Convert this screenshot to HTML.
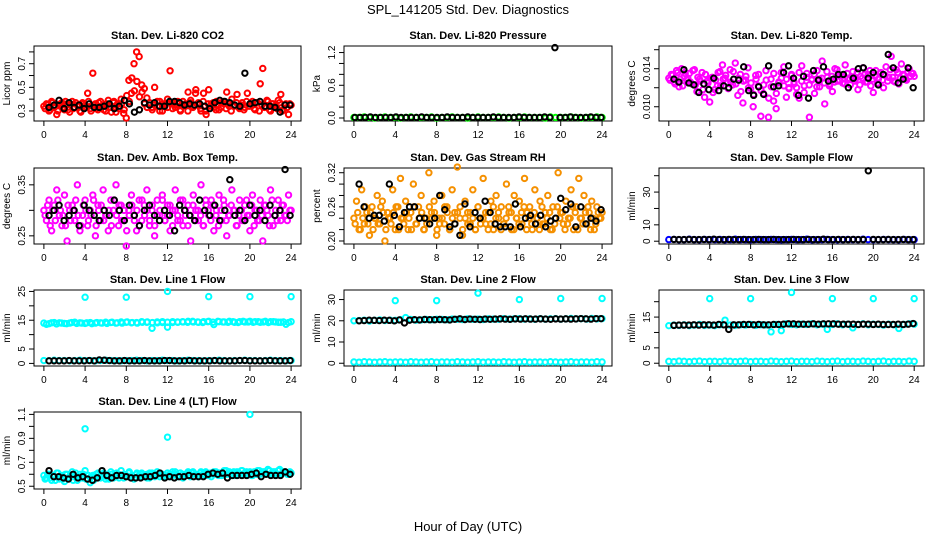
<!DOCTYPE html>
<html><head><meta charset="utf-8"><style>
body{margin:0;background:#fff;}
svg{display:block;font-family:"Liberation Sans",sans-serif;}
</style></head><body>
<svg id="chart" width="936" height="540" viewBox="0 0 936 540">
<text x="468" y="14" text-anchor="middle" font-size="13">SPL_141205  Std. Dev. Diagnostics</text>
<text x="468" y="531" text-anchor="middle" font-size="13">Hour of Day (UTC)</text>
</svg>
<script>
const xTicks = [0,4,8,12,16,20,24];
const co2Red = [.34,.36,.30,.38,.33,.27,.35,.37,.31,.36,.29,.38,.33,.35,.30,.37,.35,.45,.32,.62,.36,.31,.38,.34,.30,.39,.33,.37,.29,.36,.40,.28,.24,.56,.45,.70,.80,.76,.52,.49,.41,.35,.33,.50,.38,.30,.36,.34,.40,.64,.37,.33,.36,.30,.38,.35,.46,.39,.34,.48,.37,.30,.45,.27,.48,.36,.33,.38,.31,.37,.36,.46,.34,.40,.35,.44,.32,.37,.33,.45,.36,.38,.31,.37,.53,.66,.34,.38,.30,.36,.33,.39,.44,.31,.36,.27,.35];
const co2Red2 = [.32,.35,.31,.37,.34,.30,.36,.33,.38,.31,.35,.32,.37,.34,.29,.36,.33,.38,.30,.35,.32,.37,.34,.31,.36,.33,.29,.38,.35,.32,.36,.31,.43,.38,.58,.47,.55,.42,.46,.36,.33,.37,.31,.35,.34,.38,.30,.36,.33,.37,.32,.35,.38,.31,.34,.36,.30,.37,.33,.45,.35,.32,.38,.30,.36,.34,.37,.31,.35,.33,.38,.32,.36,.30,.34,.37,.33,.35,.31,.38,.34,.36,.32,.37,.30,.35,.33,.39,.31,.36,.34,.32,.37,.30,.35,.33,.36];
const co2Black = [.33,.35,.39,.32,.37,.33,.35,.32,.36,.33,.33,.34,.36,.32,.34,.39,.36,.29,.31,.37,.35,.37,.34,.34,.38,.38,.37,.35,.36,.35,.36,.34,.32,.37,.39,.38,.37,.35,.34,.62,.36,.37,.38,.34,.34,.33,.29,.35,.35];
const presGreen = [.01,.01,.02,.01,.0,.01,.02,.01,.01,.0,.01,.02,.01,.01,.01,.02,.0,.01,.01,.02,.01,.01,.0,.01,.02,.01,.01,.01,.02,.01,.0,.01,.01,.02,.01,.01,.01,.0,.02,.01,.01,.01,.02,.01,.0,.01,.01,.02,.01];
const presBlack = [.01,.01,.01,.02,.01,.01,.01,.01,.02,.01,.01,.01,.01,.02,.01,.01,.01,.01,.02,.01,.01,.01,.02,.01,.01,.01,.01,.02,.01,.01,.01,.01,.02,.01,.01,.01,.01,.02,.01,1.29,.01,.01,.02,.01,.01,.01,.02,.01,.01];
const tempMag = [13.0,13.4,12.6,13.8,12.1,14.0,13.2,12.8,13.5,12.4,13.9,11.6,12.9,13.6,11.0,12.7,10.5,13.1,11.8,12.2,13.7,14.4,13.0,12.5,13.9,12.3,14.6,11.2,13.4,10.4,12.8,14.1,11.9,10.0,13.3,12.2,9.0,11.4,13.8,8.9,12.9,10.6,9.8,12.5,13.6,14.2,11.0,12.0,13.4,12.6,11.3,10.9,14.3,12.2,13.5,8.9,12.9,11.4,13.8,12.1,14.8,10.3,13.1,12.4,11.6,14.0,12.7,13.3,12.5,14.4,13.0,12.3,13.7,12.9,11.8,13.2,14.1,12.6,13.4,12.2,11.5,13.8,12.9,13.6,12.0,14.2,13.1,15.3,12.7,13.9,12.4,14.5,13.3,12.8,14.0,13.5,13.2];
const tempMag2 = [12.8,13.3,12.4,13.6,12.9,12.2,13.5,13.0,12.6,13.8,12.3,13.1,12.7,11.8,13.4,12.5,13.0,11.5,12.8,13.6,12.2,12.9,13.3,11.9,12.6,13.7,12.4,13.0,11.6,12.7,13.2,12.0,12.5,11.3,12.9,13.4,11.7,12.3,12.8,10.9,12.1,13.5,11.4,12.6,13.0,12.2,12.9,11.9,13.3,12.4,12.0,13.6,12.7,11.5,13.1,12.3,12.8,13.4,12.1,12.9,13.0,12.5,13.7,12.2,13.2,12.6,13.9,12.8,13.3,12.4,13.5,12.9,13.1,12.7,13.6,12.3,13.0,13.4,12.6,13.8,12.9,13.2,12.5,13.5,12.8,13.3,12.7,13.9,13.1,12.6,13.6,13.0,13.4,12.9,13.7,13.2,13.5];
const tempBlack = [12.9,12.6,13.9,12.5,12.3,11.5,12.4,11.8,13.0,11.7,12.2,12.0,12.9,12.8,14.2,11.7,11.2,12.1,11.3,14.3,12.1,12.2,13.6,14.3,13.0,11.2,13.2,10.9,13.8,12.8,14.2,12.7,12.9,13.4,13.4,12.0,13.0,14.0,14.1,13.0,13.6,12.3,13.4,15.5,14.1,12.5,12.9,14.1,12.0];
const ambMag = [.30,.28,.32,.26,.31,.34,.29,.27,.33,.24,.30,.31,.28,.35,.26,.29,.32,.27,.30,.33,.25,.31,.28,.34,.29,.26,.32,.30,.35,.27,.31,.28,.23,.30,.33,.29,.26,.32,.28,.31,.34,.27,.30,.25,.32,.29,.33,.28,.31,.26,.30,.34,.28,.32,.27,.29,.31,.24,.33,.30,.28,.35,.27,.31,.29,.32,.26,.30,.33,.28,.31,.25,.29,.34,.30,.27,.32,.28,.31,.29,.26,.33,.30,.28,.32,.24,.31,.29,.34,.27,.30,.32,.28,.31,.29,.33,.30];
const ambMag2 = [.29,.31,.27,.30,.28,.32,.30,.29,.27,.31,.28,.30,.32,.29,.27,.31,.30,.28,.29,.32,.27,.30,.31,.28,.29,.30,.27,.32,.29,.31,.28,.30,.26,.29,.31,.28,.30,.27,.32,.29,.30,.28,.31,.27,.29,.30,.32,.28,.29,.31,.27,.30,.29,.28,.32,.30,.27,.29,.31,.28,.30,.29,.27,.32,.30,.28,.31,.29,.27,.30,.32,.28,.29,.31,.30,.27,.29,.30,.28,.32,.29,.31,.27,.30,.28,.29,.31,.30,.27,.32,.29,.28,.30,.31,.29,.28,.30];
const ambBlack = [.29,.30,.31,.28,.29,.30,.27,.31,.30,.29,.28,.30,.29,.32,.30,.28,.31,.29,.27,.30,.31,.29,.28,.30,.29,.26,.31,.30,.29,.28,.32,.30,.29,.31,.28,.30,.36,.29,.30,.28,.31,.29,.30,.28,.31,.29,.30,.38,.29];
const rhOrange = [.24,.27,.22,.29,.23,.25,.21,.26,.24,.28,.23,.27,.20,.25,.24,.29,.22,.26,.31,.24,.27,.22,.25,.30,.23,.26,.28,.22,.24,.32,.25,.27,.21,.24,.28,.23,.26,.22,.29,.25,.33,.24,.21,.27,.25,.23,.29,.22,.26,.24,.31,.23,.25,.27,.22,.28,.24,.26,.23,.30,.25,.22,.28,.24,.27,.23,.31,.25,.26,.22,.29,.24,.27,.23,.25,.28,.22,.26,.24,.32,.25,.23,.27,.24,.29,.22,.26,.31,.24,.28,.23,.25,.27,.22,.26,.24,.25];
const rhOrange2 = [.23,.25,.22,.24,.26,.23,.25,.22,.24,.23,.26,.25,.22,.24,.23,.25,.26,.22,.24,.23,.25,.24,.22,.26,.23,.24,.25,.22,.23,.26,.24,.25,.22,.23,.24,.26,.25,.22,.24,.23,.25,.26,.22,.24,.23,.25,.24,.22,.26,.23,.24,.25,.22,.23,.26,.24,.25,.22,.23,.24,.26,.25,.22,.24,.23,.25,.26,.22,.24,.23,.25,.24,.22,.26,.23,.24,.25,.22,.23,.26,.24,.25,.22,.23,.24,.26,.25,.22,.24,.23,.25,.26,.22,.24,.23,.25,.24];
const rhBlack = [.30,.26,.24,.245,.245,.235,.30,.245,.225,.25,.26,.26,.24,.24,.23,.24,.28,.255,.225,.23,.21,.265,.225,.25,.24,.27,.25,.23,.225,.225,.225,.265,.225,.24,.245,.23,.245,.225,.235,.24,.275,.255,.265,.225,.26,.23,.24,.235,.255];
const sampleBlue = [1.0,1.1,0.9,1.0,1.2,1.0,0.9,1.1,1.0,1.0,1.1,0.9,1.0,1.2,1.0,1.0,0.9,1.1,1.0,1.0,1.1,1.0,0.9,1.0,1.1,1.0,1.0,1.2,0.9,1.0,1.0,1.1,1.0,0.9,1.0,1.1,1.0,1.0,1.2,1.0,0.9,1.0,1.1,1.0,1.0,0.9,1.1,1.0,1.0];
const sampleBlack = [1.1,1.0,1.0,1.1,1.0,1.0,1.1,1.0,1.2,1.0,1.0,1.1,1.0,1.0,1.1,1.0,1.0,1.1,1.0,1.0,1.1,1.0,1.0,1.0,1.1,1.0,1.0,1.1,1.0,1.0,1.2,1.0,1.0,1.1,1.0,1.0,1.1,1.0,1.0,43,1.1,1.0,1.0,1.1,1.0,1.0,1.1,1.0,1.0];
const l1Upper = [14.0,13.8,14.2,14.1,13.9,14.0,14.3,14.1,13.9,14.2,14.0,14.1,14.3,14.2,14.0,14.4,14.3,14.1,14.2,14.5,14.3,12.2,14.4,14.2,12.6,14.5,14.3,14.4,14.6,14.4,14.3,14.5,14.6,13.5,14.5,14.4,14.6,14.3,14.5,14.4,14.6,14.5,14.3,14.6,14.5,14.4,14.3,13.6,14.5];
const l1Upper2 = [13.6,14.1,13.7,14.0,13.8,14.2,13.9,14.0,14.1,13.8,14.2,14.0,13.9,14.3,14.1,14.0,14.4,14.2,14.0,14.3,14.4,14.2,14.1,14.5,14.3,14.2,14.4,14.5,14.3,14.6,14.4,14.2,14.5,14.3,14.6,14.4,14.3,14.5,14.2,14.6,14.4,14.3,14.5,14.4,14.2,14.5,14.3,14.4,14.2];
const l1Lower = [1.0,0.9,1.1,1.0,1.0,0.9,1.0,1.1,1.0,1.0,0.9,1.0,1.1,1.0,1.0,0.9,1.0,1.0,1.1,1.0,0.9,1.0,1.0,1.1,1.0,1.0,0.9,1.0,1.1,1.0,1.0,0.9,1.0,1.0,1.1,1.0,0.9,1.0,1.0,1.1,1.0,1.0,0.9,1.0,1.1,1.0,1.0,0.9,1.0];
const l1Black = [0.9,0.9,0.9,0.9,1.0,0.9,0.9,0.9,1.0,0.9,1.2,1.1,1.0,0.9,0.9,1.0,0.9,0.9,0.9,1.0,0.9,0.9,0.9,1.0,1.0,0.9,0.9,0.9,1.0,0.9,0.9,0.9,0.9,1.0,0.9,0.9,0.9,0.9,1.0,1.0,0.9,0.9,0.9,0.9,1.0,0.9,0.9,0.9,1.0];
const l2Upper = [20.0,20.1,20.3,19.9,20.2,20.4,20.1,20.3,20.2,20.5,21.5,20.6,20.3,20.4,20.6,20.5,20.7,20.6,20.5,20.8,20.7,20.6,20.9,20.7,20.8,20.6,20.9,20.8,20.7,21.0,20.8,20.9,21.0,20.8,20.9,20.7,21.0,20.8,20.9,21.0,20.8,20.9,21.1,20.9,21.0,20.8,21.1,20.9,21.0];
const l2Lower = [0.6,0.5,0.7,0.6,0.5,0.6,0.7,0.5,0.6,0.6,0.5,0.7,0.6,0.5,0.6,0.7,0.5,0.6,0.6,0.5,0.7,0.6,0.5,0.6,0.7,0.5,0.6,0.6,0.5,0.7,0.6,0.5,0.6,0.7,0.5,0.6,0.6,0.5,0.7,0.6,0.5,0.6,0.7,0.5,0.6,0.6,0.5,0.7,0.6];
const l2Black = [20.0,20.1,20.3,20.2,20.1,20.3,20.2,20.0,20.4,19.0,20.3,20.5,20.4,20.6,20.5,20.5,20.6,20.5,20.4,20.7,20.9,20.6,20.8,20.7,20.6,20.8,20.7,20.8,20.9,20.8,20.7,20.9,20.8,20.9,20.8,20.8,20.9,20.8,20.7,20.9,20.8,20.9,20.8,20.9,21.0,20.9,20.8,21.0,21.0];
const l3Upper = [12.2,12.4,12.3,12.5,12.2,12.4,12.6,12.3,12.4,12.2,12.5,14.0,12.4,12.3,12.5,12.4,12.6,12.3,12.5,12.4,10.2,12.6,10.6,12.8,12.6,12.5,12.7,12.6,12.8,12.5,12.7,11.0,12.6,12.8,12.5,12.7,11.5,12.6,12.8,12.5,12.7,12.6,12.4,12.7,12.5,11.3,12.6,12.8,12.7];
const l3Lower = [0.6,0.5,0.7,0.6,0.5,0.6,0.7,0.5,0.6,0.6,0.5,0.7,0.6,0.5,0.6,0.7,0.5,0.6,0.6,0.5,0.7,0.6,0.5,0.6,0.7,0.5,0.6,0.6,0.5,0.7,0.6,0.5,0.6,0.7,0.5,0.6,0.6,0.5,0.7,0.6,0.5,0.6,0.7,0.5,0.6,0.6,0.5,0.7,0.6];
const l3Black = [12.3,12.4,12.4,12.4,12.5,12.4,12.5,12.5,12.4,12.6,12.5,11.0,12.5,12.5,12.6,12.6,12.5,12.6,12.5,12.5,12.6,12.6,12.7,12.8,12.8,12.7,12.7,12.7,12.8,12.7,12.8,12.8,12.8,12.7,12.7,12.7,12.7,12.6,12.7,12.7,12.6,12.7,12.6,12.6,12.6,12.7,12.6,12.7,12.9];
const l4Cyan = [.59,.57,.60,.55,.58,.61,.56,.59,.54,.60,.57,.62,.58,.55,.60,.57,.63,.56,.53,.59,.58,.61,.57,.60,.56,.59,.62,.57,.58,.60,.63,.57,.59,.61,.58,.56,.60,.59,.61,.58,.60,.57,.61,.59,.62,.58,.60,.59,.61,.58,.62,.60,.59,.61,.57,.60,.62,.59,.61,.60,.58,.62,.59,.61,.60,.58,.62,.60,.61,.59,.63,.60,.62,.61,.59,.62,.60,.63,.61,.60,.62,.59,.61,.63,.60,.62,.61,.64,.60,.62,.61,.63,.60,.62,.61,.60,.61];
const l4Cyan2 = [.56,.60,.57,.59,.55,.61,.58,.56,.60,.57,.59,.55,.61,.58,.57,.60,.56,.59,.58,.55,.60,.57,.59,.61,.58,.56,.60,.58,.61,.57,.59,.60,.58,.62,.59,.57,.61,.58,.60,.59,.57,.61,.60,.58,.60,.61,.59,.58,.61,.60,.59,.62,.58,.61,.60,.59,.61,.58,.62,.60,.59,.61,.60,.62,.59,.61,.60,.62,.59,.61,.60,.63,.61,.59,.62,.60,.61,.63,.60,.62,.61,.59,.62,.60,.63,.61,.62,.60,.63,.61,.62,.60,.64,.61,.62,.60,.62];
const l4Black = [.63,.58,.58,.57,.56,.6,.57,.58,.56,.55,.57,.63,.59,.57,.59,.59,.58,.57,.57,.57,.58,.58,.59,.61,.57,.58,.57,.58,.58,.59,.58,.58,.58,.6,.61,.6,.61,.57,.59,.59,.59,.59,.6,.61,.58,.6,.59,.59,.59,.62,.6];
const outlierHours = [4,8,12,16,20,24];
const l1Out = [23,23,25,23.2,23.2,23.2];
const l2Out = [29.5,29.5,33,30,30.5,30.5];
const l3Out = [21,21,23,21,21,21];
const l4OutHours = [4,12,20];
const l4Out = [0.98,0.91,1.1];

const svg = document.getElementById('chart');
const NS = 'http://www.w3.org/2000/svg';
function mk(tag, attrs, parent){
  const e = document.createElementNS(NS, tag);
  for (const k in attrs) e.setAttribute(k, attrs[k]);
  (parent||svg).appendChild(e);
  return e;
}
const colL = [34, 344, 659], colR = [301, 612, 924];
const rowT = [46, 168, 290, 412], rowB = [121, 244, 366, 489];

function panel(col, row, title, ylab, ylim, ticks, labels, name){
  const L = colL[col], R = colR[col], T = rowT[row], B = rowB[row];
  const g = mk('g', {});
  
  
  const xs = h => L + (h + 0.96) / 25.92 * (R - L);
  const ys = v => B - (v - ylim[0]) / (ylim[1] - ylim[0]) * (B - T);
  const t = mk('text', {x:(L+R)/2, y:T-7, 'text-anchor':'middle', 'font-size':11, 'font-weight':'bold'}, g);
  t.textContent = title;
  
  
  const box = mk('rect', {x:L, y:T, width:R-L, height:B-T, fill:'none', stroke:'#000', 'stroke-width':1}, g);
  
  
  const xa = mk('g', {}, g);
  
  
  mk('line', {x1:xs(xTicks[0]), x2:xs(xTicks[xTicks.length-1]), y1:B, y2:B, stroke:'#000'}, xa);
  xTicks.forEach(h => {
    mk('line', {x1:xs(h), x2:xs(h), y1:B, y2:B+5, stroke:'#000'}, xa);
    const tl = mk('text', {x:xs(h), y:B+17, 'text-anchor':'middle', 'font-size':10}, xa);
    tl.textContent = h;
  });
  const ya = mk('g', {}, g);
  
  
  mk('line', {x1:L, x2:L, y1:ys(ticks[0]), y2:ys(ticks[ticks.length-1]), stroke:'#000'}, ya);
  ticks.forEach(v => mk('line', {x1:L-5, x2:L, y1:ys(v), y2:ys(v), stroke:'#000'}, ya));
  labels.forEach(l => {
    const yy = ys(l[0]);
    const tl = mk('text', {x:L-9, y:yy, 'text-anchor':'middle', 'font-size':10, transform:`rotate(-90 ${L-9} ${yy})`}, ya);
    tl.textContent = l[1];
  });
  const ym = (T+B)/2;
  const yt = mk('text', {x:L-24, y:ym, 'text-anchor':'middle', 'font-size':10, transform:`rotate(-90 ${L-24} ${ym})`}, g);
  yt.textContent = ylab;
  
  
  return {g, xs, ys};
}
function series(p, vals, h0, h1, color, sname){
  const sg = mk('g', {fill:'none', stroke:color, 'stroke-width':2}, p.g);
  
  
  const n = vals.length;
  vals.forEach((v, i) => {
    const h = h0 + i * (h1 - h0) / (n - 1);
    mk('circle', {cx:p.xs(h), cy:p.ys(v), r:2.7}, sg);
  });
}
function seriesAt(p, hours, vals, color, sname){
  const sg = mk('g', {fill:'none', stroke:color, 'stroke-width':2}, p.g);
  
  
  vals.forEach((v, i) => mk('circle', {cx:p.xs(hours[i]), cy:p.ys(v), r:2.7}, sg));
}
const BK = '#000', CY = '#00ffff';
let p;
p = panel(0,0,'Stan. Dev. Li-820 CO2','Licor ppm',[0.215,0.85],[.3,.4,.5,.6,.7,.8],[[.3,'0.3'],[.5,'0.5'],[.7,'0.7']],'co2');
series(p, co2Red, 0, 24, '#ff0000', 'co2-red-points'); series(p, co2Red2, 0.12, 23.88, '#ff0000', 'co2-red-points-2'); series(p, co2Black, 0.5, 23.9, BK, 'co2-black-points');
p = panel(1,0,'Stan. Dev. Li-820 Pressure','kPa',[-0.055,1.32],[0,.2,.4,.6,.8,1.0,1.2],[[0,'0.0'],[.6,'0.6'],[1.2,'1.2']],'pressure');
series(p, presGreen, 0, 24, '#00ff00', 'pressure-green-points'); series(p, presBlack, 0.1, 23.9, BK, 'pressure-black-points');
p = panel(2,0,'Stan. Dev. Li-820 Temp.','degrees C',[8.5,16.39],[10,12,14,16],[[10,'0.010'],[14,'0.014']],'li820-temp');
series(p, tempMag, 0, 24, '#ff00ff', 'temp-magenta-points'); series(p, tempMag2, 0.12, 23.88, '#ff00ff', 'temp-magenta-points-2'); series(p, tempBlack, 0.5, 23.9, BK, 'temp-black-points');
p = panel(0,1,'Stan. Dev. Amb. Box Temp.','degrees C',[0.234,0.383],[.25,.30,.35],[[.25,'0.25'],[.35,'0.35']],'amb-box-temp');
series(p, ambMag, 0, 24, '#ff00ff', 'amb-magenta-points'); series(p, ambMag2, 0.12, 23.88, '#ff00ff', 'amb-magenta-points-2'); series(p, ambBlack, 0.5, 23.9, BK, 'amb-black-points');
p = panel(1,1,'Stan. Dev. Gas Stream RH','percent',[0.1947,0.3283],[.20,.22,.24,.26,.28,.30,.32],[[.20,'0.20'],[.26,'0.26'],[.32,'0.32']],'gas-stream-rh');
series(p, rhOrange, 0, 24, '#f59000', 'rh-orange-points'); series(p, rhOrange2, 0.12, 23.88, '#f59000', 'rh-orange-points-2'); series(p, rhBlack, 0.5, 23.9, BK, 'rh-black-points');
p = panel(2,1,'Stan. Dev. Sample Flow','ml/min',[-1.7,44.7],[0,10,20,30,40],[[0,'0'],[10,'10'],[30,'30']],'sample-flow');
series(p, sampleBlue, 0, 24, '#0000ff', 'sample-blue-points'); series(p, sampleBlack, 0.5, 23.9, BK, 'sample-black-points');
p = panel(0,2,'Stan. Dev. Line 1 Flow','ml/min',[-0.9,25.5],[0,5,10,15,20,25],[[0,'0'],[5,'5'],[15,'15'],[25,'25']],'line1-flow');
series(p, l1Upper, 0, 24, CY, 'line1-cyan-upper'); series(p, l1Upper2, 0.25, 23.75, CY, 'line1-cyan-upper-2'); series(p, l1Lower, 0, 24, CY, 'line1-cyan-lower');
seriesAt(p, outlierHours, l1Out, CY, 'line1-cyan-outliers'); series(p, l1Black, 0.5, 23.9, BK, 'line1-black-points');
p = panel(1,2,'Stan. Dev. Line 2 Flow','ml/min',[-1.3,34.5],[0,10,20,30],[[0,'0'],[10,'10'],[20,'20'],[30,'30']],'line2-flow');
series(p, l2Upper, 0, 24, CY, 'line2-cyan-upper'); series(p, l2Lower, 0, 24, CY, 'line2-cyan-lower');
seriesAt(p, outlierHours, l2Out, CY, 'line2-cyan-outliers'); series(p, l2Black, 0.5, 23.9, BK, 'line2-black-points');
p = panel(2,2,'Stan. Dev. Line 3 Flow','ml/min',[-0.9,23.8],[0,5,10,15,20],[[0,'0'],[5,'5'],[15,'15']],'line3-flow');
series(p, l3Upper, 0, 24, CY, 'line3-cyan-upper'); series(p, l3Lower, 0, 24, CY, 'line3-cyan-lower');
seriesAt(p, outlierHours, l3Out, CY, 'line3-cyan-outliers'); series(p, l3Black, 0.5, 23.9, BK, 'line3-black-points');
p = panel(0,3,'Stan. Dev. Line 4 (LT) Flow','ml/min',[0.477,1.12],[.5,.6,.7,.8,.9,1.0,1.1],[[.5,'0.5'],[.7,'0.7'],[.9,'0.9'],[1.1,'1.1']],'line4-flow');
series(p, l4Cyan, 0, 24, CY, 'line4-cyan-points'); series(p, l4Cyan2, 0.12, 23.88, CY, 'line4-cyan-points-2'); seriesAt(p, l4OutHours, l4Out, CY, 'line4-cyan-outliers');
series(p, l4Black, 0.5, 23.9, BK, 'line4-black-points');
</script>
</body></html>
